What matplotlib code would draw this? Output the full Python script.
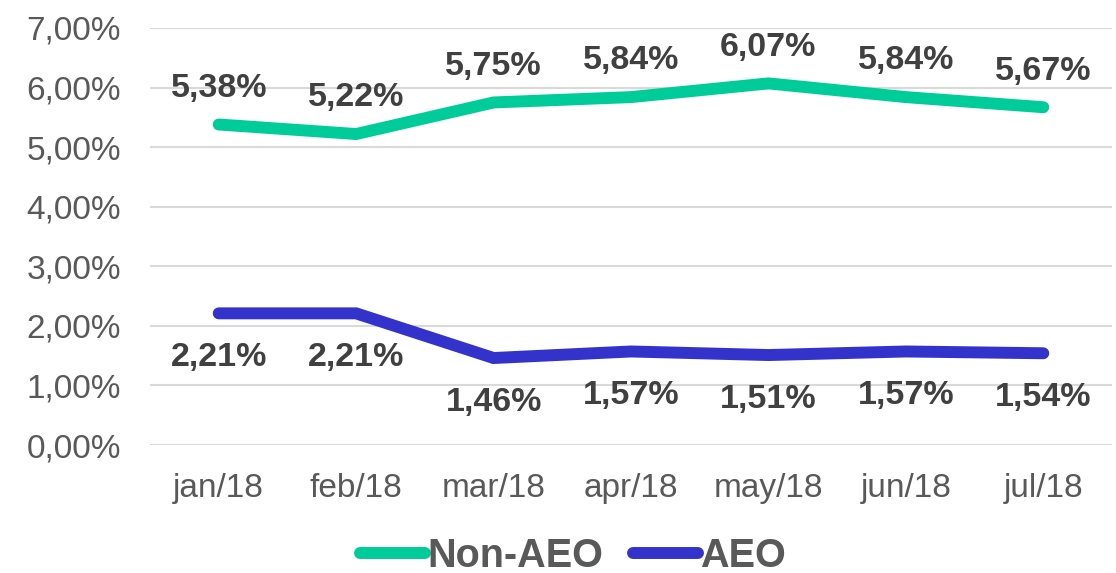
import matplotlib
matplotlib.use("Agg")
import matplotlib.pyplot as plt
from matplotlib.ticker import FuncFormatter

months = ["jan/18", "feb/18", "mar/18", "apr/18", "may/18", "jun/18", "jul/18"]
non_aeo = [5.38, 5.22, 5.75, 5.84, 6.07, 5.84, 5.67]
aeo = [2.21, 2.21, 1.46, 1.57, 1.51, 1.57, 1.54]
yticks = [0, 1, 2, 3, 4, 5, 6, 7]

plt.rcParams['font.family'] = ['Liberation Sans', 'DejaVu Sans']

W, H = 1116, 573
fig = plt.figure(figsize=(W / 100, H / 100), dpi=100)
ax = fig.add_axes([150 / W, 128 / H, (1112 - 150) / W, (445 - 28) / H])

x = list(range(len(months)))
green = "#00CC99"
blue = "#3333CC"
l1, = ax.plot(x, non_aeo, color=green, lw=8.6, solid_capstyle='round',
              solid_joinstyle='miter', label="Non-AEO", zorder=3)
l2, = ax.plot(x, aeo, color=blue, lw=8.6, solid_capstyle='round',
              solid_joinstyle='miter', label="AEO", zorder=3)

lab_color = "#404040"
for xi, v in zip(x, non_aeo):
    ax.annotate(f"{v:.2f}%".replace(".", ","), (xi, v), xytext=(0, 26),
                textcoords="offset points", ha="center", va="center",
                fontsize=24.5, fontweight="bold", color=lab_color)
for xi, v in zip(x, aeo):
    ax.annotate(f"{v:.2f}%".replace(".", ","), (xi, v), xytext=(0, -32),
                textcoords="offset points", ha="center", va="center",
                fontsize=24.5, fontweight="bold", color=lab_color)

ax.set_xlim(-0.5, len(months) - 0.5)
ax.set_ylim(0, 7)
ax.set_yticks(yticks)
ax.yaxis.set_major_formatter(FuncFormatter(lambda v, p: f"{v:.2f}%".replace(".", ",")))
ax.set_xticks(x)
ax.set_xticklabels(months)
ax.tick_params(axis='both', length=0, labelsize=24, colors="#595959")
ax.tick_params(axis='y', pad=21)
ax.tick_params(axis='x', pad=20)
ax.grid(axis='y', color="#D9D9D9", lw=1.5, zorder=0)
for s in ax.spines.values():
    s.set_visible(False)

leg = fig.legend(handles=[l1, l2], loc="center", bbox_to_anchor=(573 / W, 1 - 556 / H),
                 ncol=2, frameon=False, handlelength=1.65, handletextpad=0.05,
                 columnspacing=0.75, prop={'size': 28.5, 'weight': 'bold'})
for t in leg.get_texts():
    t.set_color("#595959")

fig.savefig("out.png", dpi=100)
